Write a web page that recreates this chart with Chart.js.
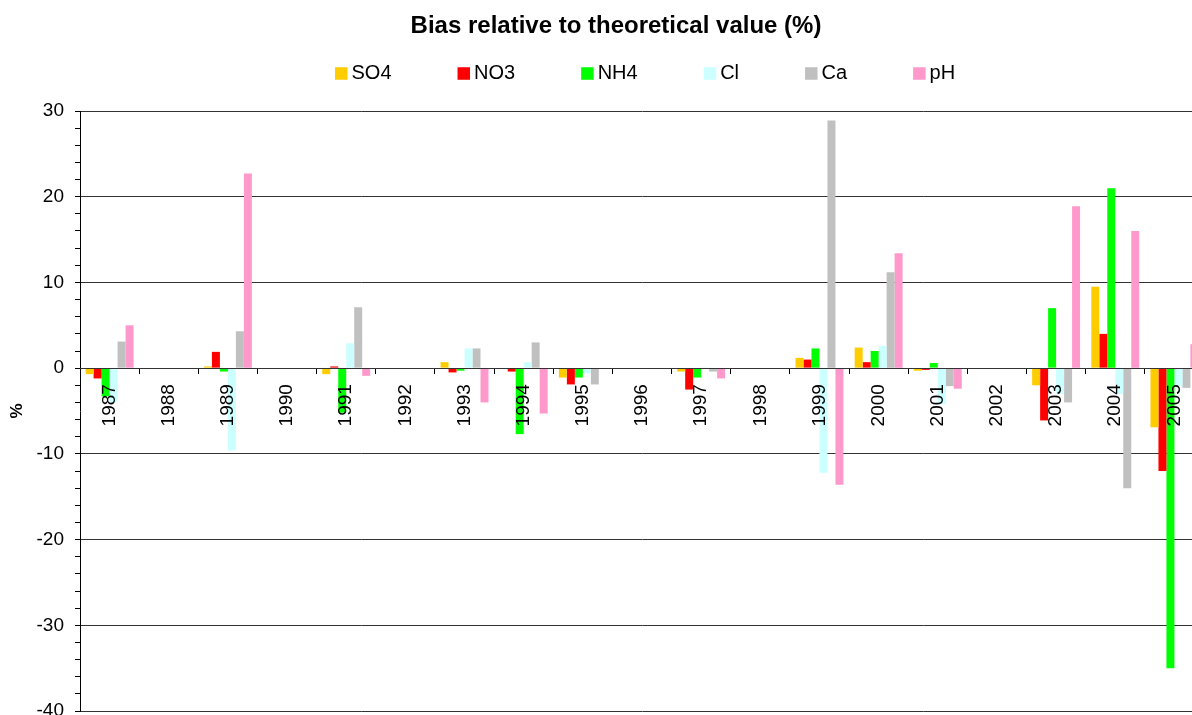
<!DOCTYPE html>
<html>
<head>
<meta charset="utf-8">
<title>Bias relative to theoretical value (%)</title>
<script src="https://cdn.jsdelivr.net/npm/chart.js@4.4.1/dist/chart.umd.min.js"></script>
<style>
  html, body { margin: 0; padding: 0; background: #fff; overflow: hidden; }
  #wrap { position: absolute; left: 0; top: 0; width: 1232px; height: 740px; }
</style>
</head>
<body>
<div id="wrap"><canvas id="chart"></canvas></div>
<script>
// Survey years
const categories = ['1987','1988','1989','1990','1991','1992','1993','1994','1995','1996',
                    '1997','1998','1999','2000','2001','2002','2003','2004','2005'];

// Bias per component (%); null = no result that year
const so4 = [-0.7, null, 0.2, null, -0.7, null, 0.7, -0.1, -1.1, null, -0.4, null, 1.2, 2.4, -0.3, null, -2.0, 9.5, -6.9];
const no3 = [-1.2, null, 1.9, null, 0.2, null, -0.5, -0.4, -1.9, null, -2.5, null, 1.0, 0.7, -0.2, null, -6.1, 4.0, -12.0];
const nh4 = [-3.3, null, -0.4, null, -5.2, null, -0.3, -7.7, -1.1, null, -1.1, null, 2.3, 2.0, 0.6, null, 7.0, 21.0, -35.0];
const cl  = [-4.0, null, -9.6, null, 2.9, null, 2.3, 0.7, -0.6, null, 0.1, null, -12.2, 2.6, -4.2, null, -3.0, -3.0, -2.1];
const ca  = [3.1, null, 4.3, null, 7.1, null, 2.3, 3.0, -1.9, null, -0.4, null, 28.9, 11.2, -2.1, null, -4.0, -14.0, -2.3];
const ph  = [5.0, null, 22.7, null, -0.9, null, -4.0, -5.3, null, null, -1.2, null, -13.6, 13.4, -2.4, null, 18.9, 16.0, 2.8];

const seriesNames = ['SO4', 'NO3', 'NH4', 'Cl', 'Ca', 'pH'];
const seriesValues = [so4, no3, nh4, cl, ca, ph];
const seriesColors = ['#FFCC00', '#FF0000', '#00FF00', '#CCFFFF', '#C0C0C0', '#FF99CC'];

const chartTitle = 'Bias relative to theoretical value (%)';

// Y axis range and label spacing
const yMin = -40, yMax = 30, yLabelStep = 10, yMinorStep = 2;

const FONT = '"Liberation Sans", Arial, Helvetica, sans-serif';

// Header: bold title centred on the canvas, then a single-row legend
// (small square swatch followed by the series name)
const header = {
  id: 'header',
  afterDraw(chart) {
    const ctx = chart.ctx;
    ctx.save();
    ctx.fillStyle = '#000';
    ctx.textBaseline = 'middle';
    ctx.textAlign = 'center';
    ctx.font = 'bold 24px ' + FONT;
    ctx.fillText(chartTitle, chart.width / 2, 26);

    ctx.font = '20px ' + FONT;
    ctx.textAlign = 'left';
    const y = 73.5, box = 12.5;
    let x = 335;
    chart.data.datasets.forEach(ds => {
      ctx.fillStyle = ds.backgroundColor;
      ctx.fillRect(x, y - box / 2, box, box);
      ctx.fillStyle = '#000';
      ctx.fillText(ds.label, x + box + 4, y);
      x += box + 4 + ctx.measureText(ds.label).width + 66;
    });
    ctx.restore();
  }
};

const datasets = seriesNames.map((name, i) => ({
  label: name,
  data: seriesValues[i],
  backgroundColor: seriesColors[i],
  borderWidth: 0,
  barPercentage: 1.0,
  categoryPercentage: 0.81
}));

new Chart(document.getElementById('chart'), {
  type: 'bar',
  data: { labels: categories, datasets },
  plugins: [header],
  options: {
    responsive: true,
    maintainAspectRatio: false,
    animation: false,
    devicePixelRatio: 1,
    layout: { padding: { left: 0, right: 28, top: 111, bottom: 29 } },
    plugins: {
      legend: { display: false },
      tooltip: { enabled: false },
      title: { display: false }
    },
    scales: {
      x: {
        type: 'category',
        position: { y: 0 },
        offset: true,
        border: { display: true, color: '#333', width: 1, z: 1 },
        grid: {
          offset: true,
          drawOnChartArea: false,
          drawTicks: true,
          tickLength: 5,
          tickColor: '#000',
          z: 1
        },
        ticks: {
          color: '#000',
          font: { family: FONT, size: 19 },
          minRotation: 90,
          maxRotation: 90,
          autoSkip: false,
          padding: 11,
          z: 1
        }
      },
      y: {
        min: yMin,
        max: yMax,
        position: 'left',
        afterFit(scale) { scale.width = 80; },
        border: { display: true, color: '#000', width: 1 },
        grid: {
          color: ctx => (ctx.tick && ctx.tick.value % yLabelStep === 0) ? '#333' : 'rgba(0,0,0,0)',
          tickColor: '#000',
          tickLength: 5,
          lineWidth: 1
        },
        ticks: {
          stepSize: yMinorStep,
          autoSkip: false,
          color: '#000',
          padding: 11,
          font: { family: FONT, size: 19 },
          callback: v => (v % yLabelStep === 0 ? String(v) : '')
        },
        title: {
          display: true,
          text: '%',
          color: '#000',
          font: { family: FONT, size: 17, weight: 'bold' },
          padding: { top: 7, bottom: 0 }
        }
      }
    }
  }
});
</script>
</body>
</html>
